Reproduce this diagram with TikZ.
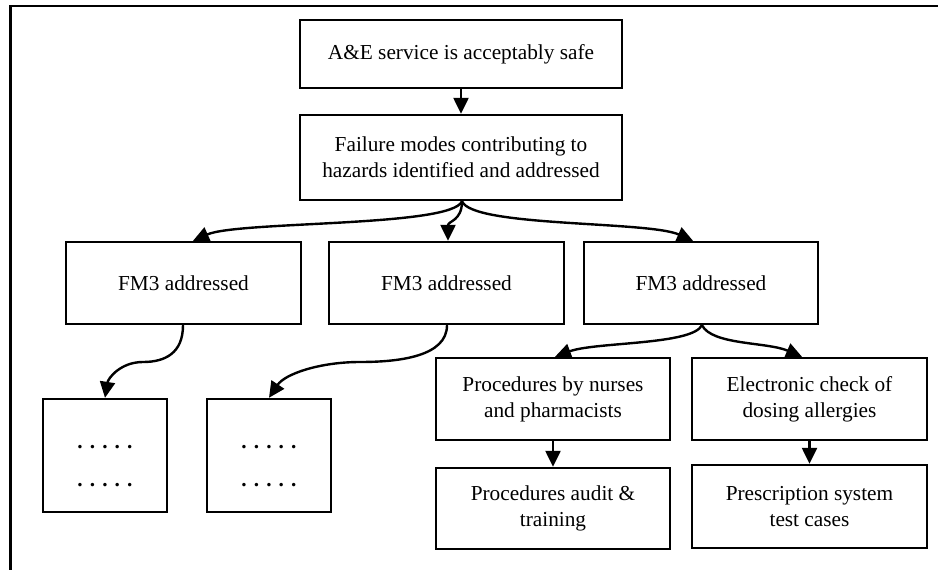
\documentclass[tikz,border=0pt]{standalone}
\usepackage{fontspec}
\setmainfont{Liberation Serif}
\usetikzlibrary{arrows.meta,calc}
\begin{document}
\begin{tikzpicture}[x=1pt,y=1pt,
  box/.style={draw,line width=2.4pt,rectangle,inner sep=0pt,align=center,
    font=\fontsize{21.3}{26}\selectfont},
  dotstext/.style={inner sep=0pt,anchor=base,font=\fontsize{21.3}{26}\selectfont\bfseries},
  conn/.style={line width=2.4pt,-{Triangle[length=16pt,width=15pt]}},
  frame/.style={line width=2.5pt}]
\useasboundingbox (0,0) rectangle (938,-570);
\draw[frame] (10.5,-570) -- (10.5,-6) -- (938,-6);

\node[box,minimum width=322,minimum height=68] (b1) at (461,-54) {A\&E service is acceptably safe};
\node[box,minimum width=322,minimum height=85] (b2) at (461,-157.5) {Failure modes contributing to\\hazards identified and addressed};
\node[box,minimum width=235,minimum height=82] (f1) at (183.5,-283) {FM3 addressed};
\node[box,minimum width=235,minimum height=82] (f2) at (446.5,-283) {FM3 addressed};
\node[box,minimum width=234,minimum height=82] (f3) at (701,-283) {FM3 addressed};
\node[box,minimum width=124,minimum height=113] (d1) at (105,-455.5) {};
\node[box,minimum width=124,minimum height=113] (d2) at (269,-455.5) {};
\node[dotstext] (d1a) at (105,-448) {. . . . .};
\node[dotstext] (d1b) at (105,-486) {. . . . .};
\node[dotstext] (d2a) at (269,-448) {. . . . .};
\node[dotstext] (d2b) at (269,-486) {. . . . .};
\node[box,minimum width=234,minimum height=82] (p1) at (553,-399) {Procedures by nurses\\and pharmacists};
\node[box,minimum width=235,minimum height=82] (e1) at (809.5,-399) {Electronic check of\\dosing allergies};
\node[box,minimum width=234,minimum height=81] (p2) at (553,-508.5) {Procedures audit \&\\training};
\node[box,minimum width=235,minimum height=83] (e2) at (809.5,-506.5) {Prescription system\\test cases};

\coordinate (k1) at (143,-362);
\coordinate (k2) at (360,-362);

\draw[conn] (b1.south) -- (b2.north);
\draw[conn] ($(b2.south)+(1,0)$) .. controls +(-10,-26) and +(45,20) .. ($(f1.north)+(9.5,0)$);
\draw[conn] ($(b2.south)+(1,0)$) .. controls +(0,-20) and +(0,20) .. ($(f2.north)+(1.5,0)$);
\draw[conn] ($(b2.south)+(1,0)$) .. controls +(10,-26) and +(-45,20) .. ($(f3.north)+(-8,0)$);
\draw[conn] ($(f1.south)+(-0.5,0)$) .. controls +(0,-28) and +(22,0) .. (k1)
  .. controls +(-23,0) and +(3,19) .. (d1.north);
\draw[conn] ($(f2.south)+(0.5,0)$) .. controls +(0,-31) and +(40,0) .. (k2)
  .. controls +(-40,0) and +(16,24) .. (d2.north);
\draw[conn] ($(f3.south)+(1,0)$) .. controls +(-10,-20) and +(40,15) .. ($(p1.north)+(2,0)$);
\draw[conn] ($(f3.south)+(1,0)$) .. controls +(10,-20) and +(-35,15) .. ($(e1.north)+(-7.5,0)$);
\draw[conn] (p1.south) -- (p2.north);
\draw[conn] (e1.south) -- (e2.north);
\end{tikzpicture}
\end{document}
